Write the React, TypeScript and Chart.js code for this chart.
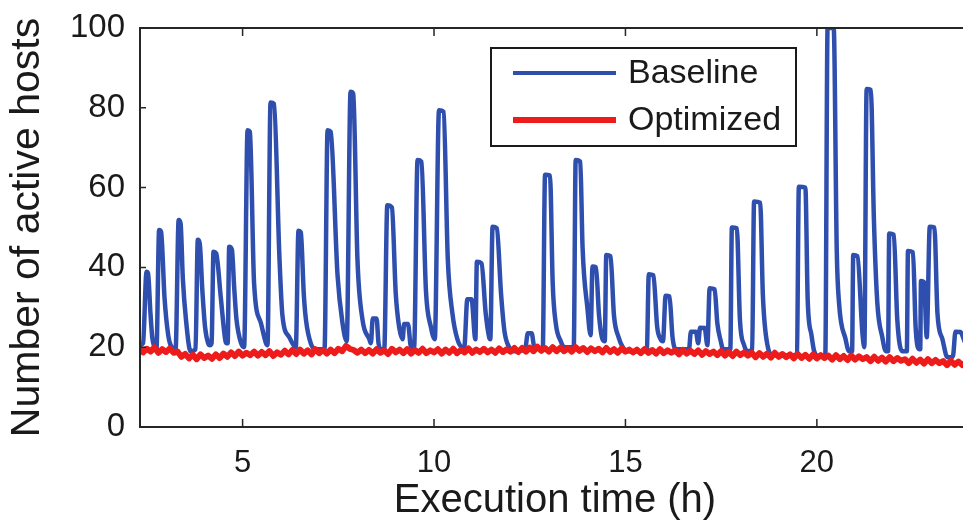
import React, { useEffect, useRef } from "react";
import { Chart, registerables } from "chart.js";

Chart.register(...registerables);

const xTicks = [5, 10, 15, 20];
const yTicks = [0, 20, 40, 60, 80, 100];
const seriesNames = ["Baseline", "Optimized"];
const seriesColors = ["#2f4fae", "#ee1b1b"];
const xTitle = "Execution time (h)";
const yTitle = "Number of active hosts";

// Baseline: [time (h), active hosts] vertices
const baselinePoints: [number, number][] = [
  [2.32, 20.5], [2.40, 21], [2.49, 38.9], [2.53, 38.5], [2.59, 29], [2.64, 22.5], [2.70, 20],
  [2.75, 19.5], [2.82, 49.4], [2.87, 49], [2.96, 32.5], [3.05, 23.5], [3.12, 20.5],
  [3.25, 19.5], [3.33, 51.9], [3.38, 51], [3.44, 37], [3.52, 27], [3.64, 19],
  [3.77, 19.5], [3.83, 46.9], [3.88, 46], [3.95, 34], [4.02, 25], [4.10, 21], [4.15, 20.5],
  [4.19, 21], [4.24, 43.9], [4.31, 43.5], [4.43, 32.5], [4.53, 23], [4.57, 21],
  [4.61, 21], [4.65, 45.2], [4.72, 44.5], [4.78, 35], [4.84, 27], [4.96, 21], [5.04, 20],
  [5.13, 74.4], [5.19, 74], [5.30, 36], [5.48, 26], [5.61, 21], [5.65, 20.5],
  [5.73, 81.3], [5.82, 81], [5.96, 43], [6.04, 28], [6.22, 22.5], [6.39, 20],
  [6.46, 49.2], [6.52, 48.8], [6.60, 33], [6.66, 26.5], [6.78, 21], [6.90, 19.5],
  [7.14, 19.5], [7.22, 74.4], [7.30, 74], [7.48, 38], [7.61, 26], [7.72, 21.5],
  [7.82, 84], [7.89, 83.5], [8.00, 42], [8.13, 27], [8.31, 22],
  [8.35, 21], [8.40, 27.2], [8.50, 27.2], [8.55, 21], [8.62, 19.5],
  [8.70, 19.5], [8.78, 55.6], [8.90, 55], [9.00, 33.5], [9.09, 25], [9.18, 22],
  [9.22, 25.8], [9.32, 25.8], [9.40, 20],
  [9.48, 20], [9.57, 66.9], [9.67, 66.5], [9.79, 34], [9.92, 25], [10.02, 22],
  [10.13, 79.4], [10.25, 79], [10.36, 42], [10.48, 28.5], [10.61, 22], [10.74, 20],
  [10.79, 20], [10.87, 32], [10.98, 32], [11.08, 22],
  [11.12, 41.4], [11.24, 41], [11.35, 28.5], [11.44, 22.5],
  [11.47, 22], [11.53, 50.2], [11.64, 49.8], [11.75, 33.5], [11.84, 24], [11.96, 20], [12.10, 19],
  [12.38, 19.5], [12.45, 23.5], [12.55, 23.5], [12.62, 20],
  [12.84, 19.5], [12.90, 63.2], [13.03, 63], [13.10, 36], [13.18, 26], [13.31, 21.5], [13.40, 20],
  [13.65, 20], [13.70, 66.9], [13.82, 66.5], [13.88, 45], [14.01, 29.5], [14.09, 23],
  [14.14, 40.2], [14.23, 40], [14.31, 28], [14.40, 22],
  [14.46, 21.5], [14.50, 43.1], [14.61, 42.8], [14.70, 28], [14.82, 22.5], [14.93, 20], [15.05, 19],
  [15.50, 19], [15.56, 19.5], [15.61, 38.3], [15.73, 38], [15.83, 25], [15.92, 22],
  [15.98, 21.5], [16.05, 32.9], [16.15, 32.7], [16.23, 22.5], [16.32, 19.5],
  [16.66, 19.5], [16.71, 23.9], [16.84, 23.9], [16.90, 21], [16.95, 24.9], [17.07, 24.8], [17.14, 20.5],
  [17.20, 34.8], [17.33, 34.5], [17.40, 26], [17.49, 21.5], [17.55, 19.5],
  [17.74, 19.5], [17.78, 50], [17.91, 49.8], [17.99, 27], [18.10, 20.5], [18.20, 19],
  [18.31, 19.5], [18.36, 56.5], [18.52, 56.2], [18.59, 33], [18.71, 20.5], [18.85, 18],
  [19.40, 18], [19.48, 18.5], [19.53, 60.2], [19.70, 60], [19.76, 32], [19.86, 23], [19.93, 19], [20.05, 17.8],
  [20.22, 18], [20.28, 100], [20.44, 100], [20.52, 44], [20.58, 31], [20.75, 22], [20.84, 19],
  [20.92, 19], [20.95, 43.1], [21.06, 42.8], [21.19, 23.5], [21.24, 20],
  [21.30, 84.7], [21.41, 84.5], [21.49, 52], [21.58, 31], [21.71, 22.5], [21.80, 19],
  [21.86, 19], [21.89, 48.5], [22.01, 48.2], [22.10, 27], [22.23, 19],
  [22.35, 19], [22.38, 44.1], [22.51, 43.8], [22.58, 25], [22.67, 19.5],
  [22.70, 19.5], [22.72, 36.6], [22.80, 36.3], [22.87, 22.5],
  [22.95, 50.2], [23.07, 50], [23.15, 28.5], [23.28, 22], [23.41, 17.5], [23.52, 17.5],
  [23.56, 18], [23.62, 23.9], [23.75, 23.8], [23.88, 21], [24.0, 20],
];

// Optimized: sampled every 0.1 h from 2.3 h
const optimizedStart = 2.3;
const optimizedStep = 0.1;
const optimizedHosts = [
  19.8, 18.7, 19.6, 18.9, 20.0, 18.6, 19.5, 18.8, 19.7, 18.6,
  18.9, 17.6, 18.3, 17.2, 18.1, 17.0, 18.2, 17.3, 17.9, 17.1,
  18.2, 17.3, 18.4, 17.6, 18.7, 17.8, 18.9, 17.9, 18.6, 18.0,
  18.9, 17.9, 18.8, 18.0, 19.0, 17.8, 18.7, 18.1, 19.1, 18.2,
  19.3, 18.3, 19.4, 18.4, 19.2, 18.2, 19.5, 18.5, 19.3, 18.4,
  19.4, 18.5, 19.6, 19.0, 20.3, 19.6, 19.3, 18.6, 19.4, 18.5,
  19.3, 18.4, 19.5, 18.6, 19.2, 18.3, 19.6, 18.7, 19.4, 18.5,
  19.5, 18.4, 19.3, 18.6, 19.6, 18.5, 19.2, 18.7, 19.5, 18.4,
  19.4, 18.6, 19.6, 18.5, 19.3, 18.7, 19.7, 18.6, 19.4, 18.8,
  19.6, 18.7, 19.4, 18.6, 19.7, 18.8, 19.5, 18.9, 19.8, 18.8,
  19.8, 18.9, 19.9, 19.0, 20.1, 19.1, 19.8, 18.9, 20.0, 19.0,
  19.9, 19.0, 19.7, 18.9, 20.0, 19.1, 19.8, 18.8, 19.7, 19.0,
  19.6, 18.7, 19.8, 18.8, 19.5, 18.6, 19.7, 18.9, 19.4, 18.7,
  19.4, 18.5, 19.5, 18.6, 19.3, 18.4, 19.5, 18.5, 19.2, 18.6,
  19.2, 18.2, 19.3, 18.4, 19.1, 18.3, 19.2, 18.1, 19.0, 18.3,
  18.9, 18.0, 19.0, 17.9, 18.8, 17.8, 18.9, 18.0, 18.7, 17.9,
  18.6, 17.5, 18.5, 17.6, 18.4, 17.4, 18.6, 17.6, 18.3, 17.5,
  18.2, 17.2, 18.3, 17.3, 18.1, 17.1, 18.2, 17.2, 18.0, 17.3,
  17.9, 16.9, 18.0, 17.0, 17.8, 16.8, 17.9, 16.9, 17.7, 17.0,
  17.5, 16.5, 17.6, 16.6, 17.4, 16.4, 17.5, 16.5, 17.3, 16.6,
  17.0, 16.0, 17.1, 16.1, 16.9, 15.9, 17.0, 16.0, 16.8, 16.0,
  16.5, 15.5, 16.6, 15.6, 16.4, 15.5, 16.3, 15.7,
];

const FONT = "'Liberation Sans', Arial, Helvetica, sans-serif";
const TEXT = "#1a1a1a";

export default function App() {
  const ref = useRef<HTMLCanvasElement>(null);

  useEffect(() => {
    const canvas = ref.current;
    if (!canvas) return;

    const framePlugin = {
      id: "matlabFrame",
      afterDatasetsDraw(chart: any) {
        const { ctx, chartArea: a, scales } = chart;
        const xs = scales.x;
        const ys = scales.y;
        ctx.save();
        ctx.strokeStyle = "#262626";
        ctx.lineWidth = 2;
        ctx.strokeRect(a.left, a.top, a.right - a.left, a.bottom - a.top);
        ctx.lineWidth = 1.5;
        ctx.beginPath();
        for (const v of xTicks) {
          const px = xs.getPixelForValue(v);
          ctx.moveTo(px, a.bottom);
          ctx.lineTo(px, a.bottom - 8);
          ctx.moveTo(px, a.top);
          ctx.lineTo(px, a.top + 8);
        }
        for (const v of yTicks) {
          const py = ys.getPixelForValue(v);
          ctx.moveTo(a.left, py);
          ctx.lineTo(a.left + 6, py);
          ctx.moveTo(a.right, py);
          ctx.lineTo(a.right - 6, py);
        }
        ctx.stroke();
        ctx.restore();
      },
    };

    const legendPlugin = {
      id: "boxLegend",
      afterDraw(chart: any) {
        const { ctx, chartArea: a } = chart;
        const bx = a.left + 351;
        const by = a.top + 20;
        const bw = 305;
        const bh = 98;
        ctx.save();
        ctx.fillStyle = "#ffffff";
        ctx.fillRect(bx, by, bw, bh);
        ctx.strokeStyle = "#1a1a1a";
        ctx.lineWidth = 2;
        ctx.strokeRect(bx, by, bw, bh);
        const rows = [by + 25, by + 72];
        const widths = [4, 6];
        seriesNames.forEach((name, i) => {
          const y = rows[i];
          ctx.strokeStyle = seriesColors[i];
          ctx.lineWidth = widths[i];
          ctx.beginPath();
          ctx.moveTo(bx + 22, y);
          ctx.lineTo(bx + 125, y);
          ctx.stroke();
          ctx.fillStyle = TEXT;
          ctx.font = `34px ${FONT}`;
          ctx.textAlign = "left";
          ctx.textBaseline = "middle";
          ctx.fillText(name, bx + 137, y + 1);
        });
        ctx.restore();
      },
    };

    const chart = new Chart(canvas, {
      type: "line",
      data: {
        datasets: [
          {
            label: seriesNames[0],
            data: baselinePoints.map(([x, y]) => ({ x, y })),
            borderColor: seriesColors[0],
            borderWidth: 4.5,
            pointRadius: 0,
            cubicInterpolationMode: "monotone",
            borderJoinStyle: "round",
            borderCapStyle: "round",
            clip: 0,
            order: 2,
          },
          {
            label: seriesNames[1],
            data: optimizedHosts.map((y, i) => ({
              x: optimizedStart + i * optimizedStep,
              y,
            })),
            borderColor: seriesColors[1],
            borderWidth: 6,
            pointRadius: 0,
            tension: 0,
            borderJoinStyle: "round",
            borderCapStyle: "round",
            clip: 0,
            order: 1,
          },
        ],
      },
      options: {
        responsive: false,
        animation: false,
        devicePixelRatio: 1,
        events: [],
        layout: { padding: { left: 0, right: 5, top: 28, bottom: 0 } },
        plugins: {
          legend: { display: false },
          tooltip: { enabled: false },
        },
        scales: {
          x: {
            type: "linear",
            min: 2.32,
            max: 24,
            afterBuildTicks: (s: any) => {
              s.ticks = xTicks.map((v) => ({ value: v }));
            },
            afterFit: (s: any) => {
              s.height = 96;
            },
            grid: { display: false, drawTicks: false },
            border: { display: false },
            ticks: {
              autoSkip: false,
              maxRotation: 0,
              padding: 18,
              color: TEXT,
              font: { family: FONT, size: 31 },
            },
            title: {
              display: true,
              text: xTitle,
              color: TEXT,
              font: { family: FONT, size: 40, lineHeight: 1 },
              padding: { top: 0, bottom: 2 },
            },
          },
          y: {
            type: "linear",
            min: 0,
            max: 100,
            afterBuildTicks: (s: any) => {
              s.ticks = yTicks.map((v) => ({ value: v }));
            },
            afterFit: (s: any) => {
              s.width = 140;
            },
            grid: { display: false, drawTicks: false },
            border: { display: false },
            ticks: {
              padding: 15,
              color: TEXT,
              font: { family: FONT, size: 33, lineHeight: 0.75 },
            },
            title: {
              display: true,
              text: yTitle,
              color: TEXT,
              font: { family: FONT, size: 41, lineHeight: 1 },
              padding: { top: 7, bottom: 0 },
            },
          },
        },
      },
      plugins: [framePlugin, legendPlugin],
    } as any);

    return () => chart.destroy();
  }, []);

  return (
    <div
      style={{
        position: "fixed",
        left: 0,
        top: 0,
        width: 963,
        height: 523,
        overflow: "hidden",
        background: "#ffffff",
      }}
    >
      <canvas
        ref={ref}
        width={975}
        height={523}
        style={{ display: "block", width: 975, height: 523 }}
      />
    </div>
  );
}
